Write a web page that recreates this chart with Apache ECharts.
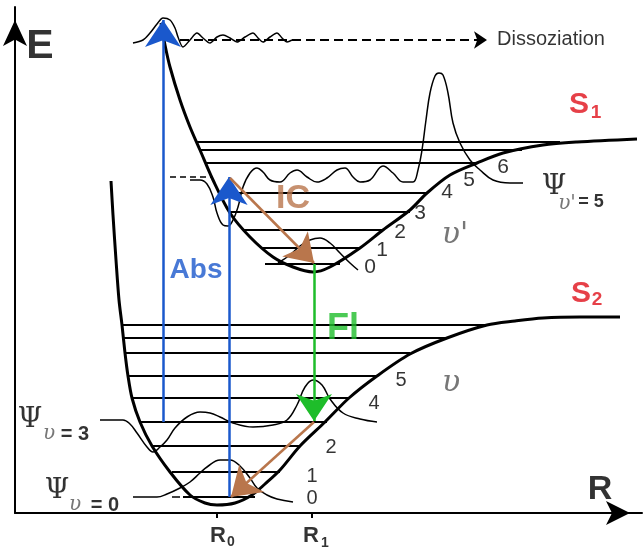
<!DOCTYPE html>
<html><head><meta charset="utf-8">
<script src="https://cdn.jsdelivr.net/npm/echarts@6/dist/echarts.min.js"></script>
<style>html,body{margin:0;padding:0;background:#fff}#c{width:643px;height:551px}</style>
</head><body><div id="c"></div>
<script>
// Diagram values: [R, E] in arbitrary diagram units
const groundCurve = [[96,332],[98,298],[101,253],[104,213],[107,188],[110,160],[113,137],[117,115],[125,91],[137,67],[155,41],[175,18],[190,10],[202,8],[220,10],[237,18],[250,29],[265,43],[285,67],[310,91],[334,115],[362,137],[395,159],[432,175],[472,188],[500,192],[528,195],[565,196],[605,196]];
const excitedCurve = [[146,490],[150,468],[155,446],[165,413],[175,386],[185,363],[198,333],[215,300],[235,276],[258,256],[278,246],[298,241],[315,246],[345,265],[368,283],[395,303],[412,320],[435,338],[462,350],[488,360],[528,368],[562,371],[622,374]];
// vibrational levels: [E, R start, R end]
const groundLevels = [[188,107,472],[175,108,432],[160,110,395],[137,113,362],[115,117,334],[91,125,312],[67,137,285],[41,157,265],[16,168,240]];
const excitedLevels = [[371,182,545],[363,185,507],[350,191,462],[320,205,413],[301,215,395],[283,229,369],[265,247,345],[249,250,325]];
const excitedLevel5Dash = [[155,336],[198,336]];
const groundLevel0Dash = [[157,16],[165,16]];
// wavefunctions
const psiGround3 = [[85,93],[108,93],[115,89],[122,80],[132,66],[138,61],[145,66],[152,73],[160,85],[172,96],[185,101],[195,100],[205,96],[218,90],[238,86],[258,88],[272,93],[282,108],[290,126],[298,133],[307,128],[315,114],[328,100],[345,94],[362,91]];
const psiGround0 = [[118,16],[142,16],[152,19],[165,25],[175,31],[185,40],[192,46],[205,53],[215,53],[225,47],[235,35],[242,25],[252,18],[262,14],[278,11]];
const psiExc0 = [[263,250],[275,258],[285,267],[295,273],[305,275],[315,270],[325,260],[335,250],[343,243]];
const psiExc5 = [[175,333],[185,333],[192,329],[198,316],[202,300],[208,288],[213,287],[218,293],[223,306],[228,326],[235,340],[242,345],[248,341],[255,333],[265,331],[275,340],[282,343],[292,336],[302,331],[312,335],[322,343],[330,345],[338,336],[345,331],[355,333],[368,347],[378,340],[388,331],[398,331],[403,343],[407,363],[411,393],[415,420],[420,437],[424,440],[428,438],[433,420],[438,390],[445,370],[455,353],[465,343],[478,333],[495,330],[508,330]];
const psiDiss = [[118,470],[128,473],[135,480],[142,489],[148,495],[155,493],[160,485],[163,476],[168,466],[175,473],[182,480],[188,475],[195,470],[202,476],[208,478],[215,475],[222,471],[230,476],[238,480],[243,475],[248,471],[255,476],[262,480],[267,475],[272,471],[277,473]];
const dissLine = [[165,473],[472,473]];
// transitions
const absLong = [[148,91],[148,493]];
const absShort = [[214,16],[214,336]];
const icArrow = [[215,335],[299,250]];
const flArrow = [[299,249],[299,92]];
const vrArrow = [[299,91],[216,16]];
// R axis ticks
const rTicks = [202, 297];
// labels: [text, R, E, style]
const labels = [
  ['E',25,466,'E'], ['R',585,23,'R'],
  ['Dissoziation',536,474,'diss'],
  ['S',564,408,'S'], ['1',581,400,'Ssub'],
  ['S',566,219,'S'], ['2',582,213,'Ssub'],
  ['Abs',181,243,'abs'], ['IC',278,314,'ic'], ['Fl',328,184,'fl'],
  ['0',355,246,'num'], ['1',367,263,'num'], ['2',385,281,'num'], ['3',405,300,'num'], ['4',432,321,'num'], ['5',454,333,'num'], ['6',488,346,'num'],
  ['0',297,15,'numS'], ['1',297,37,'numS'], ['2',316,66,'numS'], ['4',359,110,'numS'], ['5',386,133,'numS'],
  ["υ'",440,278,'ups'], ['υ',436,130,'ups'],
  ['Ψ',15,93,'psi'], ['υ',34,79,'upsSub'], ['= 3',60,79,'eq'],
  ['Ψ',42,22,'psi'], ['υ',60,8,'upsSub'], ['= 0',90,8,'eq'],
  ['Ψ',539,326,'psi'], ["υ'",552,309,'upsSub'], ['= 5',576,311,'eq2'],
  ['R',203,-23,'tickR'], ['0',216,-29,'tickSub'],
  ['R',296,-23,'tickR'], ['1',310,-30,'tickSub']
];

const SANS = 'Liberation Sans', SERIF = 'DejaVu Serif';
const BLUE = '#1a58cc', BROWN = '#b9764c', GREEN = '#1ebd2a', RED = '#e0101a', GREY = '#555';
const styles = {
  E: {fontSize:41, fontWeight:'bold', color:'#000'},
  R: {fontSize:34, fontWeight:'bold', color:'#000'},
  diss: {fontSize:20, color:'#000'},
  S: {fontSize:30, fontWeight:'bold', color:RED},
  Ssub: {fontSize:19, fontWeight:'bold', color:RED},
  abs: {fontSize:28, fontWeight:'bold', color:BLUE},
  ic: {fontSize:34, fontWeight:'bold', color:BROWN},
  fl: {fontSize:36, fontWeight:'bold', color:GREEN},
  num: {fontSize:21, color:'#000'},
  numS: {fontSize:20, color:'#000'},
  ups: {fontSize:30, fontStyle:'italic', fontFamily:SERIF, color:GREY},
  upsSub: {fontSize:20, fontStyle:'italic', fontFamily:SERIF, color:GREY},
  psi: {fontSize:28, fontFamily:SERIF, color:'#000'},
  eq: {fontSize:20, fontWeight:'bold', color:'#000'},
  eq2: {fontSize:18, fontWeight:'bold', color:'#000'},
  tickR: {fontSize:22, fontWeight:'bold', color:'#000'},
  tickSub: {fontSize:14, fontWeight:'bold', color:'#000'}
};

function curve(data, width, smooth, extra) {
  return Object.assign({type:'line', data:data, smooth:smooth, symbol:'none', clip:false, silent:true,
    lineStyle:{color:'#000', width:width}}, extra || {});
}
function segs(list, width, color, extra) {
  return Object.assign({type:'lines', coordinateSystem:'cartesian2d', clip:false, silent:true,
    data:list.map(c => ({coords:c})), lineStyle:{color:color, width:width, opacity:1}}, extra || {});
}
function arrow(coords, color, size, width) {
  return segs([coords], width, color, {symbol:['none','arrow'], symbolSize:[0,size], z:5});
}

const series = [
  curve(groundCurve, 3, 0.3),
  curve(excitedCurve, 3, 0.3),
  segs(groundLevels.map(l => [[l[1],l[0]],[l[2],l[0]]]), 2, '#000'),
  segs(excitedLevels.map(l => [[l[1],l[0]],[l[2],l[0]]]), 2, '#000'),
  segs([excitedLevel5Dash], 1.5, '#000', {lineStyle:{color:'#000', width:1.5, type:[6,4], opacity:1}}),
  segs([groundLevel0Dash], 1.5, '#000'),
  curve(psiGround3, 1.5, 0.4),
  curve(psiGround0, 1.5, 0.4),
  curve(psiExc0, 1.5, 0.4),
  curve(psiExc5, 1.5, 0.4),
  curve(psiDiss, 1.5, 0.3),
  segs([dissLine], 2, '#000', {lineStyle:{color:'#000', width:2, type:[9,5], opacity:1}, symbol:['none','arrow'], symbolSize:[0,13]}),
  arrow(absLong, BLUE, 27, 2.5),
  arrow(absShort, BLUE, 28, 2.5),
  arrow(icArrow, BROWN, 27, 2.5),
  arrow(flArrow, GREEN, 27, 2.5),
  arrow(vrArrow, BROWN, 28, 2.5),
  {type:'scatter', symbolSize:1, clip:false, silent:true, z:10, itemStyle:{color:'rgba(0,0,0,0)'},
   data: labels.map(([t,r,e,k]) => ({value:[r,e], label:Object.assign({show:true, position:'inside', formatter:t, fontFamily:SANS}, styles[k])}))}
];

const chart = echarts.init(document.getElementById('c'), null, {renderer:'canvas'});
chart.setOption({
  animation:false,
  backgroundColor:'#fff',
  textStyle:{fontFamily:SANS},
  grid:{left:15, right:1, top:7, bottom:38, outerBoundsMode:'none'},
  xAxis:{type:'value', min:0, max:627, splitLine:{show:false},
    axisLine:{show:true, lineStyle:{color:'#000', width:2}, symbol:['none','arrow'], symbolSize:[18,24], symbolOffset:[0,-12]},
    axisTick:{show:true, customValues:rTicks, length:5, lineStyle:{color:'#000', width:2}},
    axisLabel:{show:false}},
  yAxis:{type:'value', min:0, max:506, splitLine:{show:false},
    axisLine:{show:true, lineStyle:{color:'#000', width:2}, symbol:['none','arrow'], symbolSize:[18,26], symbolOffset:[0,-13]},
    axisTick:{show:false}, axisLabel:{show:false}},
  series:series
});
</script></body></html>
